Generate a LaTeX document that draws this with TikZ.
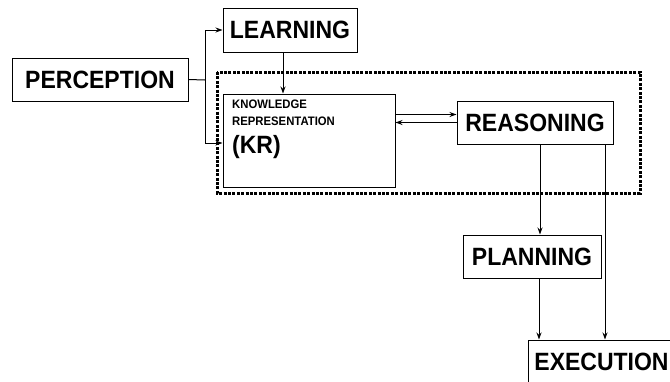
\documentclass[tikz,border=0pt]{standalone}
\usepackage{fontspec}
\newfontfamily\boxfont[FakeStretch=0.92]{Liberation Sans}
\usetikzlibrary{arrows.meta}
\tikzset{
	block/.style={draw, line width=1pt, inner sep=0pt, font=\boxfont\bfseries\fontsize{25}{27}\selectfont},
	flow/.style={line width=1pt, -{Stealth[length=7pt,width=5pt]}},
	frame/.style={line width=3pt, dash pattern=on 3pt off 1.4pt}
}

\begin{document}
\begin{tikzpicture}[x=1pt, y=-1pt]
        \useasboundingbox (0,0) rectangle (670,381);

        % Dotted frame round KR and reasoning
        \draw[frame] (217,72) rectangle (640,193);

        % Blocks
        \node[block, minimum width=176pt, minimum height=43pt] (perc) at (100,79.5) {PERCEPTION};
        \node[block, minimum width=134pt, minimum height=44pt] (learn) at (290,30) {LEARNING};
        \node[block, minimum width=172pt, minimum height=93pt] (kr) at (309,140.5) {};
        \node[anchor=north west, align=left, inner sep=0pt,
              font=\boxfont\bfseries\fontsize{12.3}{17}\selectfont] (krtext) at (232,100)
            {KNOWLEDGE\\
             REPRESENTATION\\[8pt]
             \fontsize{25}{25}\selectfont (KR)};
        \node[block, minimum width=156pt, minimum height=43pt] (reas) at (535,122.5) {REASONING};
        \node[block, minimum width=138pt, minimum height=43pt] (plan) at (532,256.5) {PLANNING};
        \node[block, minimum width=147pt, minimum height=43pt] (exec) at (601.5,361.5) {EXECUTION};

        % Perception splits to learning and KR
        \draw[line width=1pt] (perc.east) -- (205,80) coordinate (split);
        \draw[flow] (split) |- (learn.west);
        \draw[flow] (split) |- ([yshift=-2.5pt]kr.west);
        \draw[flow] ([xshift=-7pt]learn.south) -- ([xshift=-7pt]learn.south |- kr.north);

        % KR <-> reasoning
        \draw[flow] ([yshift=8pt]reas.west -| kr.east) -- ([yshift=8pt]reas.west);
        \draw[flow] (reas.west) -- (reas.west -| kr.east);

        % Down to planning and execution
        \draw[flow] ([xshift=5pt]reas.south) -- ([xshift=5pt]reas.south |- plan.north);
        \draw[flow] ([xshift=70pt]reas.south) -- ([xshift=70pt]reas.south |- exec.north);
        \draw[flow] ([xshift=7pt]plan.south) -- ([xshift=7pt]plan.south |- exec.north);

    \end{tikzpicture}
\end{document}
